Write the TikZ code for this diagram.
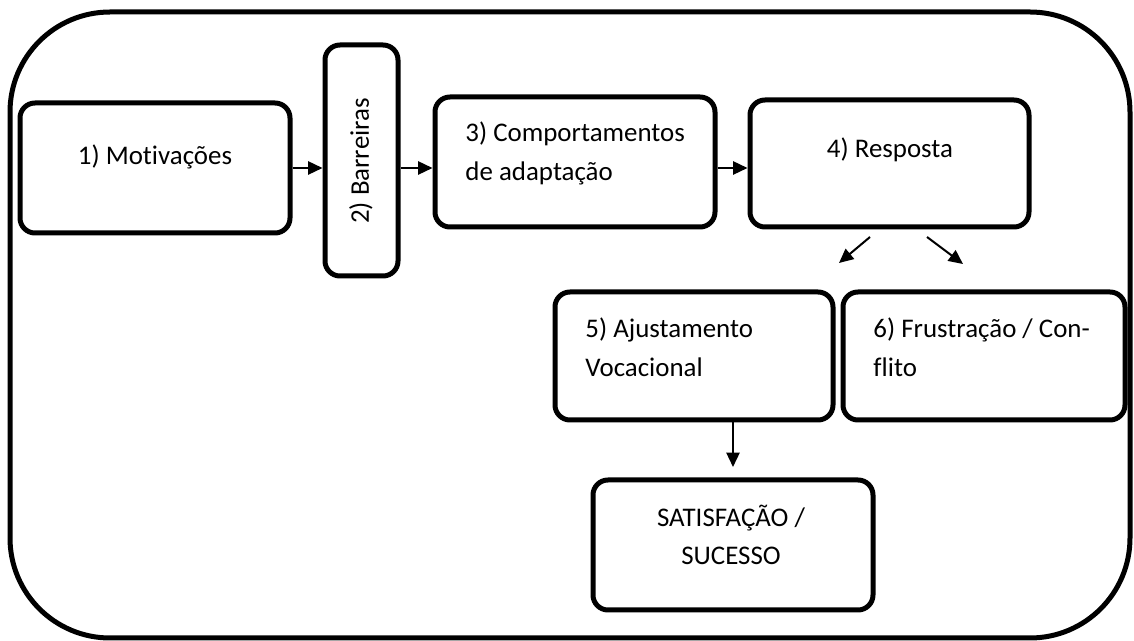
\documentclass[tikz,border=0pt]{standalone}
\usepackage{fontspec}
\setmainfont{Carlito}[Ligatures=NoCommon]
\usetikzlibrary{arrows.meta,positioning}

\newcommand{\px}{0.42pt}
\tikzset{
  caixa/.style={draw, line width=5*\px, rounded corners=15*\px, inner sep=0pt},
  texto/.style={inner sep=0pt, font=\fontsize{11.3}{16.2}\selectfont},
  seta/.style={line width=2*\px, -{Triangle[length=6pt,width=5.5pt]}}
}

\begin{document}
\begin{tikzpicture}[x=\px, y=-\px]
\useasboundingbox (0,0) rectangle (1134,641);
% moldura
\draw[line width=5*\px, rounded corners=100*\px] (10,12) rectangle (1130,638);

% caixas
\node[caixa, minimum width=270*\px, minimum height=130*\px] (b1) at (155,168) {};
\node[caixa, minimum width=73*\px, minimum height=231*\px] (b2) at (361.5,160.5) {};
\node[caixa, minimum width=280*\px, minimum height=130*\px] (b3) at (575,162) {};
\node[caixa, minimum width=279*\px, minimum height=127*\px] (b4) at (889.5,163.5) {};
\node[caixa, minimum width=278*\px, minimum height=128*\px] (b5) at (694,356) {};
\node[caixa, minimum width=282*\px, minimum height=128*\px] (b6) at (984,356) {};
\node[caixa, minimum width=280*\px, minimum height=130*\px] (sat) at (733,545) {};

% textos
\node[texto] (t1) at (155,157) {1) Motivações};
\node[texto, rotate=90] (t2) at (361,161) {2) Barreiras};
\node[texto, anchor=west, align=left] (t3) at (465,153.5) {3) Comportamentos\\de adaptação};
\node[texto] (t4) at (890,150) {4) Resposta};
\node[texto, anchor=west, align=left] (t5) at (585,347.5) {5) Ajustamento\\Vocacional};
\node[texto, anchor=west, align=left] (t6) at (873,347.5) {6) Frustração / Con-\\flito};
\node[texto, align=center] (t7) at (731,535) {SATISFAÇÃO /\\SUCESSO};

% setas
\coordinate (r1) at (870,237);
\coordinate (r2) at (839,263);
\coordinate (r3) at (927,237);
\coordinate (r4) at (963,264);
\coordinate (s1) at (733,467);
\draw[seta] (b1.east) -- (b1.east -| b2.west);
\draw[seta] (b2.east |- b1.east) -- (b1.east -| b3.west);
\draw[seta] (b3.east |- b1.east) -- (b1.east -| b4.west);
\draw[seta] (r1) -- (r2);
\draw[seta] (r3) -- (r4);
\draw[seta] (sat.north |- b5.south) -- (s1);
\end{tikzpicture}
\end{document}
